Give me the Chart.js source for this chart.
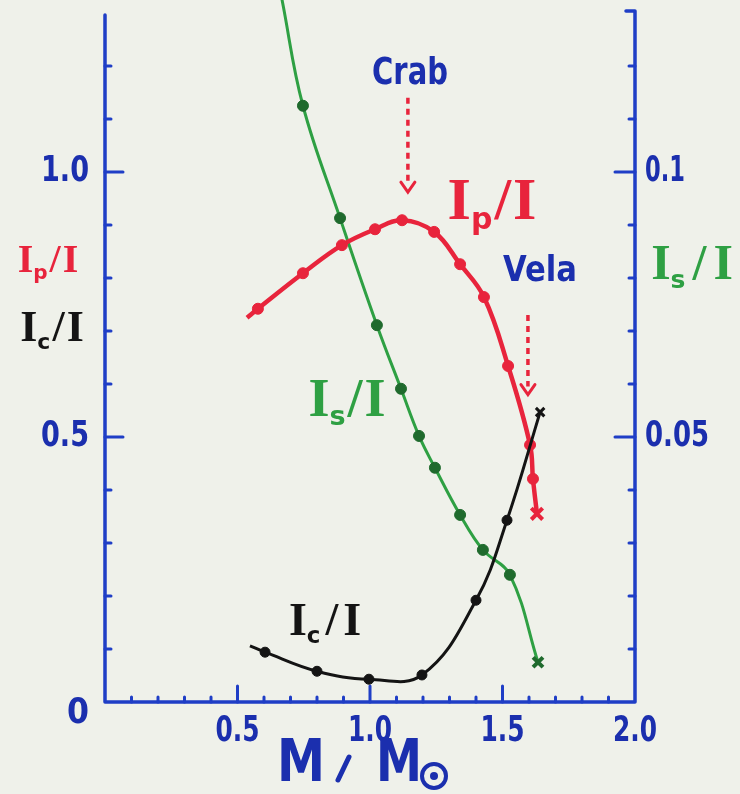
<!DOCTYPE html>
<html>
<head>
<meta charset="utf-8">
<script src="https://cdn.jsdelivr.net/npm/chart.js@4.4.1/dist/chart.umd.min.js"></script>
<style>
body{margin:0;background:#eff1ea;}
canvas{display:block;}
</style>
</head>
<body>
<canvas id="chart" width="740" height="794"></canvas>
<script>
// neutron star moment of inertia fractions vs mass (M / Msun)
const ipMass = [0.536, 0.577, 0.747, 0.894, 1.019, 1.121, 1.242, 1.340, 1.430, 1.521, 1.604, 1.615, 1.630]
const ipFrac = [0.725, 0.742, 0.809, 0.862, 0.892, 0.909, 0.887, 0.826, 0.764, 0.634, 0.485, 0.421, 0.355]

const isMass = [0.668, 0.747, 0.887, 1.026, 1.117, 1.185, 1.245, 1.340, 1.426, 1.528, 1.634]
const isFrac = [0.1325, 0.1125, 0.0913, 0.0711, 0.0591, 0.0502, 0.0442, 0.0353, 0.0287, 0.0240, 0.0075]

const icMass = [0.547, 0.604, 0.800, 0.996, 1.196, 1.400, 1.517, 1.642]
const icFrac = [0.106, 0.094, 0.058, 0.043, 0.051, 0.192, 0.343, 0.547]

const xTickValues = [0.5, 1.0, 1.5, 2.0]
const xTickLabels = ['0.5', '1.0', '1.5', '2.0']
const leftTickValues = [0.5, 1.0]
const leftTickLabels = ['0.5', '1.0']
const rightTickValues = [0.05, 0.1]
const rightTickLabels = ['0.05', '0.1']

const paper = '#eff1ea'
const blue = '#1f3ec6'
const inkBlue = '#1b2fae'
const red = '#e8243c'
const green = '#2ea043'
const darkGreen = '#1f6a2d'
const black = '#141414'

const pts = (xs, ys) => xs.map((x, i) => ({x: x, y: ys[i]}))

// first entry is just where the pen started, last one is the "x"
function radii(n, dot, cross, skipFirst) {
    return Array.from({length: n}, (_, i) => (i === 0 && skipFirst) ? 0 : (i === n - 1 ? cross : dot))
}
function styles(n) {
    return Array.from({length: n}, (_, i) => i === n - 1 ? 'crossRot' : 'circle')
}
function widths(n, w) {
    return Array.from({length: n}, (_, i) => i === n - 1 ? w : 1)
}

// stretch/squeeze text to a given width, like hand lettering
function label(c, text, cx, cy, font, color, w) {
    c.save()
    c.font = font
    c.fillStyle = color
    c.textAlign = 'center'
    c.textBaseline = 'middle'
    const m = c.measureText(text).width
    c.translate(cx, cy)
    if (w) c.scale(w / m, 1)
    c.fillText(text, 0, 0)
    c.restore()
}

// draws I_sub / I
function ratio(c, sub, cx, cy, size, color, gap) {
    const serif = 'bold ' + size + 'px "Liberation Serif"'
    const subFont = 'bold ' + Math.round(size * 0.5) + 'px "DejaVu Sans"'
    c.save()
    c.fillStyle = color
    c.textAlign = 'left'
    c.textBaseline = 'middle'
    c.font = serif
    const wI = c.measureText('I').width
    const wSl = c.measureText('/').width
    c.font = subFont
    const wS = c.measureText(sub).width
    const total = wI * 2 + wS + wSl + gap * 2
    let px = cx - total / 2
    c.font = serif
    c.fillText('I', px, cy)
    px += wI
    c.font = subFont
    c.fillText(sub, px, cy + size * 0.3)
    px += wS + gap
    c.font = serif
    c.fillText('/', px, cy)
    px += wSl + gap
    c.fillText('I', px, cy)
    c.restore()
}

function dashedArrow(c, x, yTop, yBot) {
    c.save()
    c.strokeStyle = red
    c.lineWidth = 3.5
    c.setLineDash([6, 5])
    c.beginPath()
    c.moveTo(x, yTop)
    c.lineTo(x, yBot - 8)
    c.stroke()
    c.setLineDash([])
    c.lineWidth = 3
    c.lineCap = 'round'
    c.beginPath()
    c.moveTo(x - 7, yBot - 10)
    c.lineTo(x, yBot)
    c.lineTo(x + 7, yBot - 10)
    c.stroke()
    c.restore()
}

const paperAxes = {
    id: 'paperAxes',
    beforeDraw(chart) {
        const c = chart.ctx
        c.save()
        c.fillStyle = paper
        c.fillRect(0, 0, chart.width, chart.height)
        c.restore()
    },
    beforeDatasetsDraw(chart) {
        const c = chart.ctx
        const {x, y, y2} = chart.scales
        const x0 = x.getPixelForValue(0), x1 = x.getPixelForValue(2)
        const yb = y.getPixelForValue(0), yt = y.getPixelForValue(1.3)
        c.save()
        c.strokeStyle = blue
        c.lineCap = 'round'
        c.lineJoin = 'round'
        c.lineWidth = 3.5
        c.beginPath()
        c.moveTo(x0, yt + 2)
        c.lineTo(x0, yb)
        c.lineTo(x1, yb)
        c.lineTo(x1, yt - 2)
        c.lineTo(x1 - 9, yt - 2)
        c.stroke()

        // ticks on both y axes, long ones at the labelled values
        c.lineWidth = 3
        for (let k = 1; k <= 12; k++) {
            const v = k / 10
            const py = y.getPixelForValue(v)
            const major = k === 5 || k === 10
            c.beginPath()
            c.moveTo(x0, py)
            c.lineTo(x0 + (major ? 18 : 6), py)
            c.stroke()
            const py2 = y2.getPixelForValue(v / 10)
            c.beginPath()
            c.moveTo(x1, py2)
            c.lineTo(x1 - (major ? 20 : 6), py2)
            c.stroke()
        }
        // ticks along the mass axis
        for (let k = 1; k <= 19; k++) {
            const px = x.getPixelForValue(k / 10)
            const major = k % 5 === 0
            c.beginPath()
            c.moveTo(px, yb)
            c.lineTo(px, yb - (major ? 16 : 5))
            c.stroke()
        }
        c.restore()
    },
    afterDatasetsDraw(chart) {
        const c = chart.ctx
        const {x, y, y2} = chart.scales
        const x0 = x.getPixelForValue(0), x1 = x.getPixelForValue(2)
        const yb = y.getPixelForValue(0)
        const numFont = 'bold 36px "DejaVu Sans"'

        xTickValues.forEach((v, i) => {
            label(c, xTickLabels[i], x.getPixelForValue(v), yb + 30, numFont, inkBlue, 44)
        })
        leftTickValues.forEach((v, i) => {
            label(c, leftTickLabels[i], x0 - 40, y.getPixelForValue(v), numFont, inkBlue, 48)
        })
        rightTickValues.forEach((v, i) => {
            const t = rightTickLabels[i]
            const w = t.length > 3 ? 64 : 40
            label(c, t, x1 + 10 + w / 2, y2.getPixelForValue(v), numFont, inkBlue, w)
        })
        label(c, '0', x0 - 27, yb + 12, 'bold 36px "DejaVu Sans"', inkBlue, 22)

        // mass axis title
        label(c, 'M', 301, 766, 'bold 58px "DejaVu Sans"', inkBlue, 48)
        c.save()
        c.strokeStyle = inkBlue
        c.lineWidth = 5
        c.lineCap = 'round'
        c.beginPath()
        c.moveTo(338, 780)
        c.lineTo(349, 757)
        c.stroke()
        c.restore()
        label(c, 'M', 399, 766, 'bold 58px "DejaVu Sans"', inkBlue, 46)
        c.save()
        c.strokeStyle = inkBlue
        c.fillStyle = inkBlue
        c.lineWidth = 4
        c.beginPath()
        c.arc(434, 776, 12, 0, Math.PI * 2)
        c.stroke()
        c.beginPath()
        c.arc(434, 776, 4, 0, Math.PI * 2)
        c.fill()
        c.restore()

        // side captions
        ratio(c, 'p', 48, 262, 40, red, 2)
        ratio(c, 'c', 52, 330, 44, black, 2)
        ratio(c, 's', 692, 266, 50, green, 7)

        // captions by the curves
        ratio(c, 'p', 492, 203, 60, red, 2)
        ratio(c, 's', 347, 402, 54, green, 2)
        ratio(c, 'c', 325, 623, 46, black, 5)

        label(c, 'Crab', 410, 74, 'bold 38px "DejaVu Sans"', inkBlue, 76)
        label(c, 'Vela', 540, 272, 'bold 36px "DejaVu Sans"', inkBlue, 74)
        dashedArrow(c, x.getPixelForValue(1.143), y.getPixelForValue(1.14), y.getPixelForValue(0.962))
        dashedArrow(c, x.getPixelForValue(1.596), y.getPixelForValue(0.73), y.getPixelForValue(0.58))
    }
}

new Chart(document.getElementById('chart'), {
    type: 'line',
    data: {
        datasets: [
            {
                data: pts(icMass, icFrac),
                yAxisID: 'y',
                borderColor: black,
                borderWidth: 3,
                tension: 0.4,
                pointRadius: radii(icMass.length, 5, 6, true),
                pointStyle: styles(icMass.length),
                pointBackgroundColor: black,
                pointBorderColor: black,
                pointBorderWidth: widths(icMass.length, 3)
            },
            {
                data: pts(ipMass, ipFrac),
                yAxisID: 'y',
                borderColor: red,
                borderWidth: 4.5,
                tension: 0.4,
                pointRadius: radii(ipMass.length, 5.5, 8, true),
                pointStyle: styles(ipMass.length),
                pointBackgroundColor: red,
                pointBorderColor: red,
                pointBorderWidth: widths(ipMass.length, 4)
            },
            {
                data: pts(isMass, isFrac),
                yAxisID: 'y2',
                clip: false,
                borderColor: green,
                borderWidth: 3,
                tension: 0.4,
                pointRadius: radii(isMass.length, 5.5, 7, true),
                pointStyle: styles(isMass.length),
                pointBackgroundColor: darkGreen,
                pointBorderColor: darkGreen,
                pointBorderWidth: widths(isMass.length, 4)
            }
        ]
    },
    options: {
        responsive: false,
        devicePixelRatio: 1,
        animation: false,
        events: [],
        layout: {padding: {left: 105, right: 105, top: 13, bottom: 92}},
        plugins: {legend: {display: false}, tooltip: {enabled: false}},
        scales: {
            x: {type: 'linear', min: 0, max: 2, display: false},
            y: {min: 0, max: 1.3, display: false},
            y2: {min: 0, max: 0.13, display: false, position: 'right'}
        }
    },
    plugins: [paperAxes]
})
</script>
</body>
</html>
